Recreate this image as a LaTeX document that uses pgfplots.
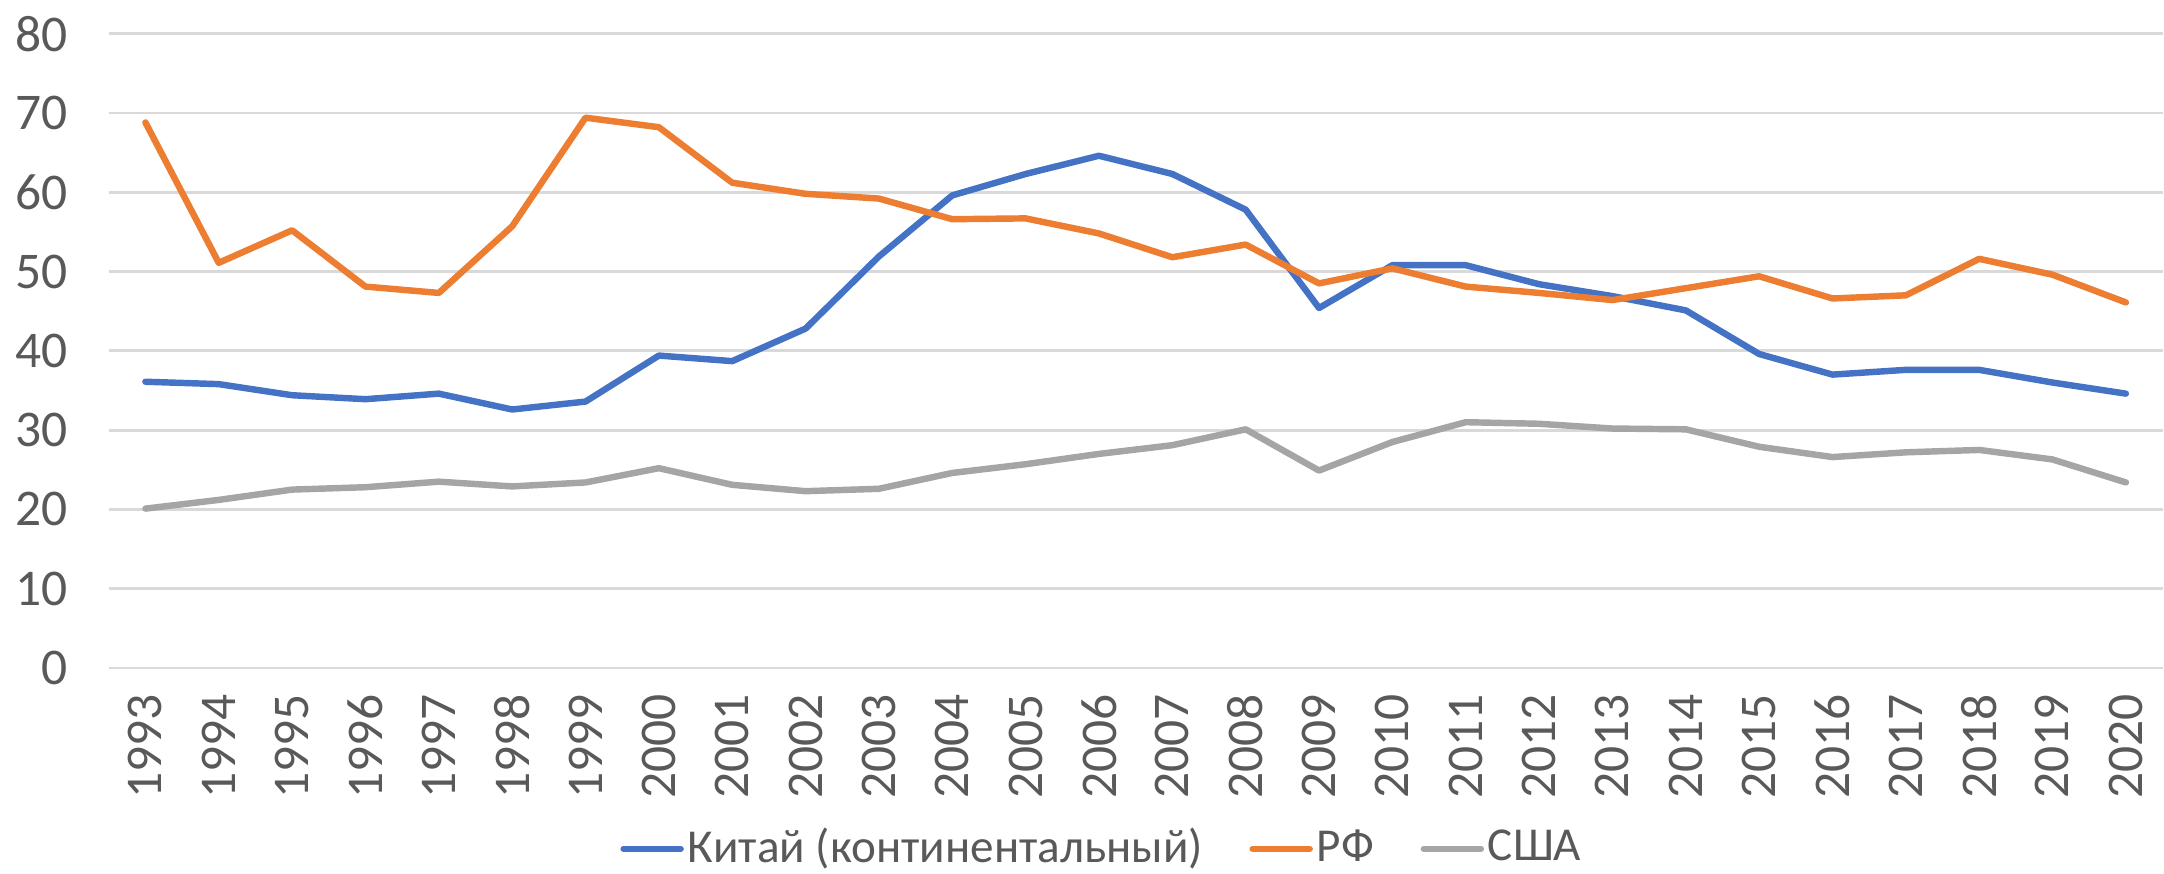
\documentclass[border=0pt]{standalone}
\usepackage{pgfplots}
\pgfplotsset{compat=1.18}
\usepackage{fontspec}
\setmainfont{Carlito}
\definecolor{cBlue}{HTML}{4472C4}
\definecolor{cOrange}{HTML}{ED7D31}
\definecolor{cGray}{HTML}{A5A5A5}
\definecolor{cText}{HTML}{595959}
\definecolor{cGrid}{HTML}{D9D9D9}
\begin{document}
\begin{tikzpicture}
\begin{axis}[
  scale only axis,
  width=430.9pt, height=133.1pt,
  xmin=1992.5, xmax=2020.5,
  ymin=0, ymax=80,
  ytick={0,10,...,80},
  xtick={1993,...,2020},
  /pgf/number format/1000 sep={},
  /pgf/number format/assume math mode=true,
  ymajorgrids, major grid style={cGrid, line width=0.6pt},
  axis line style={draw=none},
  major tick length=0pt,
  tick label style={font=\fontsize{10.8}{12}\selectfont, text=cText},
  yticklabel style={anchor=east, xshift=-5pt},
  xticklabel style={rotate=90, anchor=east, xshift=-2pt},
  clip=false,
  legend style={draw=none, at={(0.484,-0.285)}, anchor=center, inner sep=0pt,
    font=\fontsize{9.9}{11}\selectfont, text=cText,
    nodes={inner sep=0.8pt},
    legend columns=-1,
    /tikz/every odd column/.append style={column sep=0pt},
    /tikz/every even column/.append style={column sep=9pt}},
  legend image code/.code={\draw[#1, line width=1.3pt, line cap=round] (0pt,0pt) -- (12pt,0pt);},
  every axis plot/.append style={line width=1.35pt, line join=round, line cap=round},
]
\addplot[cBlue] coordinates {
(1993,36.1)(1994,35.8)(1995,34.4)(1996,33.9)(1997,34.6)(1998,32.6)(1999,33.6)(2000,39.4)
(2001,38.7)(2002,42.8)(2003,51.9)(2004,59.6)(2005,62.3)(2006,64.6)(2007,62.3)(2008,57.8)
(2009,45.4)(2010,50.8)(2011,50.8)(2012,48.4)(2013,46.9)(2014,45.1)(2015,39.6)(2016,37.0)
(2017,37.6)(2018,37.6)(2019,36.0)(2020,34.6)};
\addlegendentry{Китай (континентальный)}
\addplot[cOrange] coordinates {
(1993,68.8)(1994,51.1)(1995,55.2)(1996,48.1)(1997,47.3)(1998,55.7)(1999,69.4)(2000,68.2)
(2001,61.2)(2002,59.8)(2003,59.2)(2004,56.6)(2005,56.7)(2006,54.8)(2007,51.8)(2008,53.4)
(2009,48.5)(2010,50.4)(2011,48.1)(2012,47.3)(2013,46.4)(2014,47.9)(2015,49.4)(2016,46.6)
(2017,47.0)(2018,51.6)(2019,49.6)(2020,46.1)};
\addlegendentry{РФ}
\addplot[cGray] coordinates {
(1993,20.1)(1994,21.2)(1995,22.5)(1996,22.8)(1997,23.5)(1998,22.9)(1999,23.4)(2000,25.2)
(2001,23.1)(2002,22.3)(2003,22.6)(2004,24.6)(2005,25.7)(2006,27.0)(2007,28.1)(2008,30.1)
(2009,24.9)(2010,28.5)(2011,31.0)(2012,30.8)(2013,30.2)(2014,30.1)(2015,27.9)(2016,26.6)
(2017,27.2)(2018,27.5)(2019,26.3)(2020,23.4)};
\addlegendentry{США}
\end{axis}
\end{tikzpicture}
\end{document}
